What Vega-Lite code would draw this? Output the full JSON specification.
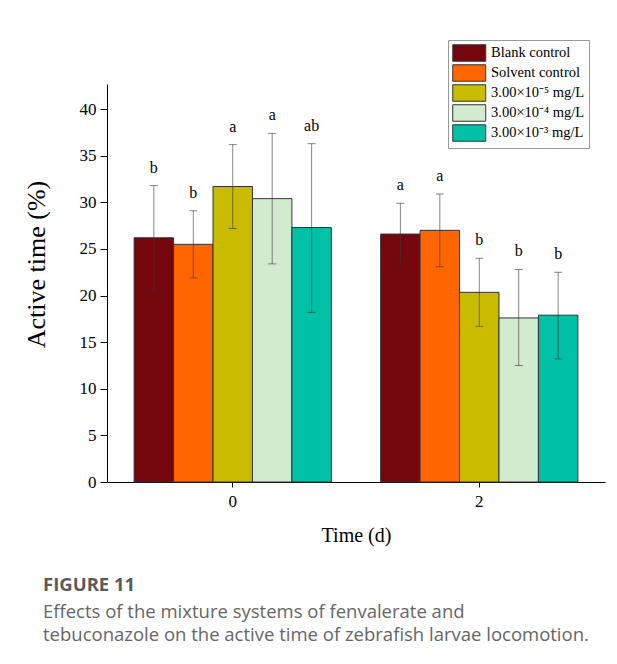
{
  "$schema": "https://vega.github.io/schema/vega-lite/v6.json",
  "width": 498,
  "height": 398,
  "autosize": {"type": "none"},
  "padding": {"left": 107, "top": 84, "right": 12, "bottom": 182},
  "background": "white",
  "config": {
    "view": {"stroke": null},
    "font": "Liberation Serif",
    "axis": {"labelFont": "Liberation Serif", "titleFont": "Liberation Serif"},
    "legend": {"labelFont": "Liberation Serif"}
  },
  "title": {
    "text": "FIGURE 11",
    "subtitle": ["Effects of the mixture systems of fenvalerate and", "tebuconazole on the active time of zebrafish larvae locomotion."],
    "orient": "bottom",
    "anchor": "start",
    "frame": "group",
    "dx": -64,
    "offset": 31,
    "font": "Open Sans",
    "fontSize": 18.5,
    "fontWeight": "bold",
    "color": "#5a5a5a",
    "subtitleFont": "Open Sans",
    "subtitleFontSize": 18.5,
    "subtitleColor": "#666666",
    "subtitleLineHeight": 23,
    "subtitlePadding": 8
  },
  "data": {
    "values": [
      {"time": "0", "group": "Blank control", "mean": 26.2, "lo": 20.6, "hi": 31.8, "letter": "b"},
      {"time": "0", "group": "Solvent control", "mean": 25.5, "lo": 21.9, "hi": 29.1, "letter": "b"},
      {"time": "0", "group": "3.00×10⁻⁵ mg/L", "mean": 31.7, "lo": 27.2, "hi": 36.2, "letter": "a"},
      {"time": "0", "group": "3.00×10⁻⁴ mg/L", "mean": 30.4, "lo": 23.4, "hi": 37.4, "letter": "a"},
      {"time": "0", "group": "3.00×10⁻³ mg/L", "mean": 27.3, "lo": 18.2, "hi": 36.3, "letter": "ab"},
      {"time": "2", "group": "Blank control", "mean": 26.6, "lo": 23.4, "hi": 29.9, "letter": "a"},
      {"time": "2", "group": "Solvent control", "mean": 27.0, "lo": 23.1, "hi": 30.9, "letter": "a"},
      {"time": "2", "group": "3.00×10⁻⁵ mg/L", "mean": 20.35, "lo": 16.7, "hi": 24.0, "letter": "b"},
      {"time": "2", "group": "3.00×10⁻⁴ mg/L", "mean": 17.6, "lo": 12.5, "hi": 22.8, "letter": "b"},
      {"time": "2", "group": "3.00×10⁻³ mg/L", "mean": 17.9, "lo": 13.2, "hi": 22.5, "letter": "b"}
    ]
  },
  "encoding": {
    "x": {
      "field": "time",
      "type": "nominal",
      "scale": {"paddingInner": 0.2, "paddingOuter": 0.11},
      "axis": {
        "title": "Time (d)",
        "labelAngle": 0,
        "domainColor": "#000",
        "tickColor": "#000",
        "tickSize": 5,
        "labelFont": "Liberation Serif",
        "labelFontSize": 17,
        "labelColor": "#000",
        "labelPadding": 6,
        "titleFont": "Liberation Serif",
        "titleFontSize": 20,
        "titleFontWeight": "normal",
        "titleColor": "#000",
        "titlePadding": 16
      }
    },
    "xOffset": {
      "field": "group",
      "type": "nominal",
      "sort": ["Blank control", "Solvent control", "3.00×10⁻⁵ mg/L", "3.00×10⁻⁴ mg/L", "3.00×10⁻³ mg/L"]
    }
  },
  "layer": [
    {
      "mark": {"type": "bar", "stroke": "#333333", "strokeWidth": 1},
      "encoding": {
        "y": {
          "field": "mean",
          "type": "quantitative",
          "title": "Active time (%)",
          "scale": {"domain": [0, 42.7], "nice": false},
          "axis": {
            "values": [0, 2.5, 5, 7.5, 10, 12.5, 15, 17.5, 20, 22.5, 25, 27.5, 30, 32.5, 35, 37.5, 40, 42.5],
            "labelExpr": "datum.value % 5 === 0 ? datum.label : ''",
            "tickSize": {"condition": {"test": "datum.value % 5 === 0", "value": 7}, "value": 4},
            "grid": false,
            "domainColor": "#000",
            "tickColor": "#000",
            "labelFont": "Liberation Serif",
            "labelFontSize": 17,
            "labelColor": "#000",
            "labelPadding": 4,
            "titleFont": "Liberation Serif",
            "titleFontSize": 26,
            "titleFontWeight": "normal",
            "titleColor": "#000",
            "titleY": 180,
            "titlePadding": 30
          }
        },
        "color": {
          "field": "group",
          "type": "nominal",
          "scale": {
            "domain": ["Blank control", "Solvent control", "3.00×10⁻⁵ mg/L", "3.00×10⁻⁴ mg/L", "3.00×10⁻³ mg/L"],
            "range": ["#74070e", "#ff6600", "#c9bb00", "#d2ebce", "#00c0a5"]
          },
          "legend": {
            "orient": "none",
            "legendX": 341,
            "legendY": -44,
            "title": null,
            "symbolType": "M-1,-1H3V1H-1Z",
            "symbolSize": 272,
            "symbolStrokeColor": "#333333",
            "symbolStrokeWidth": 1,
            "labelOffset": 21,
            "labelFont": "Liberation Serif",
            "labelFontSize": 14.5,
            "labelColor": "#000",
            "rowPadding": -2.5,
            "padding": 4,
            "strokeColor": "#999999",
            "fillColor": "white"
          }
        }
      }
    },
    {
      "mark": {"type": "rule", "color": "#333333", "opacity": 0.6, "strokeWidth": 1},
      "encoding": {
        "y": {"field": "lo", "type": "quantitative", "title": "Active time (%)"},
        "y2": {"field": "hi"}
      }
    },
    {
      "mark": {"type": "tick", "color": "#333333", "opacity": 0.6, "size": 8, "thickness": 1},
      "encoding": {"y": {"field": "hi", "type": "quantitative", "title": "Active time (%)"}}
    },
    {
      "mark": {"type": "tick", "color": "#333333", "opacity": 0.6, "size": 8, "thickness": 1},
      "encoding": {"y": {"field": "lo", "type": "quantitative", "title": "Active time (%)"}}
    },
    {
      "mark": {"type": "text", "baseline": "alphabetic", "dy": -13, "fontSize": 16, "font": "Liberation Serif", "color": "#000"},
      "encoding": {
        "y": {"field": "hi", "type": "quantitative", "title": "Active time (%)"},
        "text": {"field": "letter"}
      }
    }
  ]
}
